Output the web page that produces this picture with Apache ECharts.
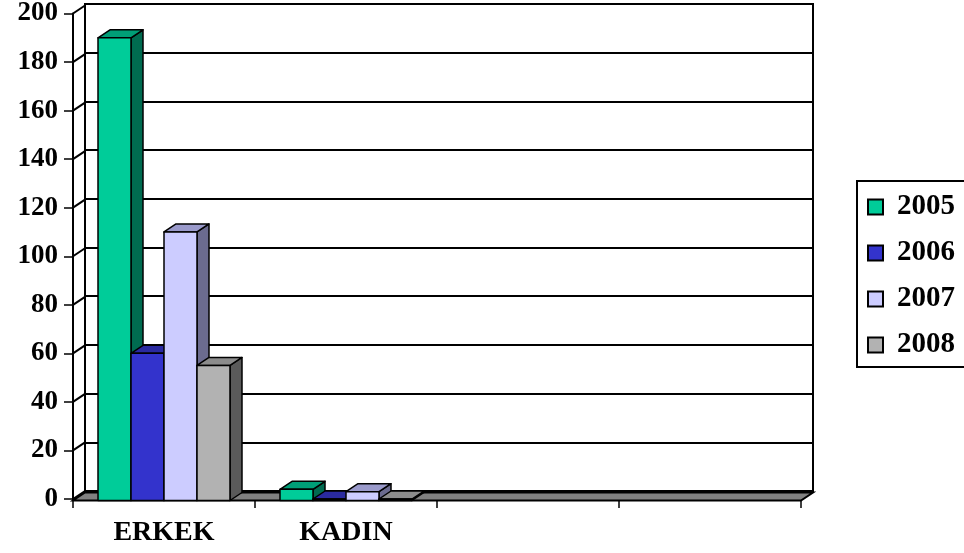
<!DOCTYPE html>
<html><head><meta charset="utf-8">
<script src="https://cdn.jsdelivr.net/npm/echarts@6/dist/echarts.min.js"></script>
<style>html,body{margin:0;padding:0;background:#fff}#c{width:964px;height:553px}</style>
</head><body><div id="c"></div>
<script>
var categories = ['ERKEK', 'KADIN', '', ''];
var years = ['2005', '2006', '2007', '2008'];
var v2005 = [190, 4, null, null];
var v2006 = [60, 0, null, null];
var v2007 = [110, 3, null, null];
var v2008 = [55, 0, null, null];
var yTicks = [0, 20, 40, 60, 80, 100, 120, 140, 160, 180, 200];

var seriesValues = [v2005, v2006, v2007, v2008];
var frontColors = ['#00CC99', '#3333CC', '#CCCCFF', '#B2B2B2'];
var topColors = ['#009E77', '#2A2AA0', '#9A9ACB', '#8C8C8C'];
var sideColors = ['#006B50', '#1E1E78', '#6B6B8F', '#5A5A5A'];
var DX = 12, DY = -8;
var FONT = 'Liberation Serif';

var chart = echarts.init(document.getElementById('c'), null, {renderer: 'canvas'});

function barRender(si) {
  return function (params, api) {
    var cat = api.value(0), val = api.value(1);
    var c = api.coord([cat, val]);
    var b = api.coord([cat, 0]);
    var cw = api.size([1, 0])[0];
    var bw = cw * 0.1813;
    var x0 = c[0] - 2 * bw + si * bw;
    var yt = c[1], yb = b[1] + 1.5;
    var st = {stroke: '#000', lineWidth: 1.5, lineJoin: 'round'};
    return {
      type: 'group',
      children: [
        {type: 'polygon', shape: {points: [[x0 + bw, yt], [x0 + bw + DX, yt + DY], [x0 + bw + DX, yb + DY], [x0 + bw, yb]]},
          style: Object.assign({fill: sideColors[si]}, st)},
        {type: 'polygon', shape: {points: [[x0, yt], [x0 + bw, yt], [x0 + bw + DX, yt + DY], [x0 + DX, yt + DY]]},
          style: Object.assign({fill: topColors[si]}, st)},
        {type: 'rect', shape: {x: x0, y: yt, width: bw, height: yb - yt},
          style: Object.assign({fill: frontColors[si]}, st)}
      ]
    };
  };
}

var series = [];
// floor
series.push({
  type: 'custom', xAxisIndex: 0, yAxisIndex: 0, silent: true, z: 1,
  data: [[0, 0]],
  renderItem: function (params, api) {
    var cw = api.size([1, 0])[0];
    var l = api.coord([0, 0]);
    var r = api.coord([categories.length - 1, 0]);
    var xl = l[0] - cw / 2, xr = r[0] + cw / 2, y = l[1] + 1.5;
    return {type: 'polygon', shape: {points: [[xl, y], [xr, y], [xr + DX, y + DY], [xl + DX, y + DY]]},
      style: {fill: '#808080', stroke: '#000', lineWidth: 2}};
  }
});
// connectors from front y axis to back wall
series.push({
  type: 'custom', xAxisIndex: 0, yAxisIndex: 0, silent: true, z: 1,
  data: yTicks.map(function (t) { return [0, t]; }),
  renderItem: function (params, api) {
    var cw = api.size([1, 0])[0];
    var p = api.coord([0, api.value(1)]);
    var x = p[0] - cw / 2;
    return {type: 'line', shape: {x1: x, y1: p[1], x2: x + DX, y2: p[1] + DY},
      style: {stroke: '#000', lineWidth: 2}};
  }
});
years.forEach(function (y, si) {
  var d = [];
  seriesValues[si].forEach(function (v, i) { if (v !== null) d.push([i, v]); });
  series.push({
    name: y, type: 'custom', xAxisIndex: 0, yAxisIndex: 0, z: 3 + si,
    itemStyle: {color: frontColors[si]},
    data: d,
    renderItem: barRender(si)
  });
});

chart.setOption({
  animation: false,
  backgroundColor: '#fff',
  grid: [
    {left: 73, right: 163, top: 12, bottom: 54, show: false},
    {left: 85, right: 151, top: 4, bottom: 62, show: true, borderColor: '#000', borderWidth: 2, backgroundColor: 'transparent'}
  ],
  xAxis: [
    {type: 'category', gridIndex: 0, data: categories, boundaryGap: true,
      axisLine: {show: true, lineStyle: {color: '#000', width: 2}},
      axisTick: {show: true, length: 9, interval: 0, lineStyle: {color: '#000', width: 1.5}},
      axisLabel: {interval: 0, margin: 20, color: '#000', fontFamily: FONT, fontWeight: 'bold', fontSize: 28},
      splitLine: {show: false}},
    {type: 'category', gridIndex: 1, data: categories, show: false}
  ],
  yAxis: [
    {type: 'value', gridIndex: 0, min: 0, max: 200, interval: 20,
      axisLine: {show: true, lineStyle: {color: '#000', width: 2}},
      axisTick: {show: true, length: 9, lineStyle: {color: '#000', width: 1.5}},
      axisLabel: {margin: 15, color: '#000', fontFamily: FONT, fontWeight: 'bold', fontSize: 27},
      splitLine: {show: false}},
    {type: 'value', gridIndex: 1, min: 0, max: 200, interval: 20,
      axisLine: {show: true, lineStyle: {color: '#000', width: 2}},
      axisTick: {show: false}, axisLabel: {show: false},
      splitLine: {show: true, lineStyle: {color: '#000', width: 2}}}
  ],
  legend: {
    orient: 'vertical', left: 857, top: 181,
    padding: [11, 30, 7, 10], itemGap: 16,
    borderColor: '#000', borderWidth: 2, backgroundColor: '#fff',
    itemWidth: 15, itemHeight: 15, icon: 'rect',
    itemStyle: {borderColor: '#000', borderWidth: 2},
    textStyle: {color: '#000', fontFamily: FONT, fontWeight: 'bold', fontSize: 29, lineHeight: 30, padding: [0, 0, 0, 9]},
    data: years
  },
  series: series
});
</script></body></html>
